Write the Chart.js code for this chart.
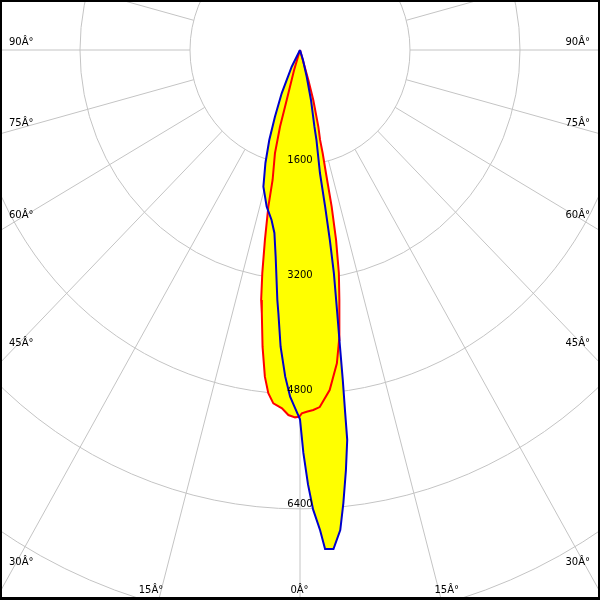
<!DOCTYPE html>
<html>
<head>
<meta charset="utf-8">
<script src="https://cdn.jsdelivr.net/npm/chart.js@4.4.1/dist/chart.umd.min.js"></script>
<style>
  html, body { margin: 0; padding: 0; background: #fff; }
  canvas { display: block; }
</style>
</head>
<body>
<canvas id="polarChart" width="600" height="600"></canvas>
<script>
// gamma angle in degrees from nadir (negative = left half), intensity in cd
const blueAngles = [-33, -27.4, -23.8, -21.4, -19.6, -17.7, -15.6, -12.5, -9.9, -8.3, -7, -5.4, -4.9, -3.9, -2.7, -1.7, -0.8, 0, 0.5, 1.1, 1.7, 2.5, 3, 4, 5, 5.7, 6.5, 7.2, 7.4, 7.7, 8, 8.4, 9, 9.3, 9.5, 9.6, 10.8, 11.1, 12.9, 14.7, 17.4, 20];
const blueValues = [0, 262, 660, 999, 1332, 1654, 1980, 2238, 2407, 2579, 2905, 3503, 3682, 4148, 4561, 4837, 4998, 5150, 5620, 6060, 6410, 6705, 6970, 6978, 6720, 6350, 5900, 5480, 5100, 4645, 4180, 3707, 3150, 2690, 2215, 1740, 1278, 1090, 715, 385, 146, 0];

const redAngles = [-22, -17, -15.5, -15.2, -14.2, -12.4, -11.9, -10.9, -10, -9.2, -8.6, -7.5, -6.4, -5.5, -4.5, -3, -1.9, -0.8, -0.1, 0.3, 1.1, 2.2, 3.3, 5.2, 7, 8, 8.8, 9.4, 10.3, 11.2, 11.9, 12.4, 12.9, 13.1, 14, 15.5, 16.2, 22];
const redValues = [0, 300, 723, 1109, 1486, 1856, 2233, 2698, 3158, 3533, 3714, 4173, 4584, 4810, 4943, 5004, 5094, 5124, 5114, 5067, 5046, 5025, 4988, 4762, 4402, 4085, 3712, 3534, 3161, 2701, 2233, 1757, 1478, 1288, 1102, 723, 435, 0];

const ringValues = [1600, 3200, 4800, 6400, 8000];
const ringLabels = ["1600", "3200", "4800", "6400"];
const sideAngleLabels = ["90Â°", "75Â°", "60Â°", "45Â°", "30Â°"];
const bottomAngleLabels = ["15Â°", "0Â°", "15Â°"];

function toXY(angles, values) {
  return angles.map((a, i) => {
    const rad = (a * Math.PI) / 180;
    return { x: values[i] * Math.sin(rad), y: -values[i] * Math.cos(rad) };
  });
}

const FONT = "10px 'DejaVu Sans', sans-serif";

const gridPlugin = {
  id: "polarGrid",
  beforeDatasetsDraw(chart) {
    const ctx = chart.ctx;
    const xs = chart.scales.x;
    const ys = chart.scales.y;
    const cx = xs.getPixelForValue(0);
    const cy = ys.getPixelForValue(0);
    ctx.save();
    ctx.strokeStyle = "#c4c4c4";
    ctx.lineWidth = 1;
    ringValues.forEach((r) => {
      const rx = xs.getPixelForValue(r) - cx;
      const ry = ys.getPixelForValue(-r) - cy;
      ctx.beginPath();
      ctx.ellipse(cx, cy, rx, ry, 0, 0, Math.PI * 2);
      ctx.stroke();
    });
    const r0 = ringValues[0];
    for (let a = 0; a < 360; a += 15) {
      const rad = (a * Math.PI) / 180;
      const s = Math.sin(rad), c = Math.cos(rad);
      ctx.beginPath();
      ctx.moveTo(xs.getPixelForValue(r0 * s), ys.getPixelForValue(-r0 * c));
      ctx.lineTo(xs.getPixelForValue(20000 * s), ys.getPixelForValue(-20000 * c));
      ctx.stroke();
    }
    ctx.restore();
  },
};

const fillPlugin = {
  id: "beamFill",
  beforeDatasetsDraw(chart) {
    const ctx = chart.ctx;
    ctx.save();
    ctx.fillStyle = "#ffff00";
    chart.data.datasets.forEach((ds, i) => {
      const pts = chart.getDatasetMeta(i).data;
      ctx.beginPath();
      pts.forEach((p, j) => (j ? ctx.lineTo(p.x, p.y) : ctx.moveTo(p.x, p.y)));
      ctx.closePath();
      ctx.fill();
    });
    ctx.restore();
  },
};

const labelPlugin = {
  id: "polarLabels",
  afterDatasetsDraw(chart) {
    const ctx = chart.ctx;
    const xs = chart.scales.x;
    const ys = chart.scales.y;
    const cx = xs.getPixelForValue(0);
    ctx.save();
    ctx.font = FONT;
    ctx.fillStyle = "#000";
    ctx.textBaseline = "alphabetic";

    ctx.textAlign = "center";
    ringLabels.forEach((t, i) => {
      ctx.fillText(t, cx, ys.getPixelForValue(-ringValues[i]) - 1.5);
    });

    const sideY = [45, 126, 218, 346, 565];
    sideAngleLabels.forEach((t, i) => {
      ctx.textAlign = "left";
      ctx.fillText(t, 9, sideY[i]);
      ctx.textAlign = "right";
      ctx.fillText(t, 590, sideY[i]);
    });

    const bottomX = [151, 299.5, 446.7];
    ctx.textAlign = "center";
    bottomAngleLabels.forEach((t, i) => {
      ctx.fillText(t, bottomX[i], 593);
    });

    // frame
    ctx.fillStyle = "#000";
    ctx.fillRect(0, 0, 600, 2);
    ctx.fillRect(0, 0, 2, 600);
    ctx.fillRect(598, 0, 2, 600);
    ctx.fillRect(0, 597, 600, 3);
    ctx.restore();
  },
};

const chartCtx = document.getElementById("polarChart").getContext("2d");
new Chart(chartCtx, {
  type: "scatter",
  data: {
    datasets: [
      {
        label: "C90-C270",
        data: toXY(blueAngles, blueValues),
        showLine: true,
        borderColor: "#0000cc",
        borderWidth: 2,
        pointRadius: 0,
        tension: 0,
        fill: false,
        order: 0,
      },
      {
        label: "C0-C180",
        data: toXY(redAngles, redValues),
        showLine: true,
        borderColor: "#ff0000",
        borderWidth: 2,
        pointRadius: 0,
        tension: 0,
        fill: false,
        order: 1,
      },
    ],
  },
  options: {
    responsive: false,
    animation: false,
    devicePixelRatio: 1,
    layout: { padding: 0 },
    plugins: {
      legend: { display: false },
      tooltip: { enabled: false },
    },
    scales: {
      x: { type: "linear", display: false, min: -4363.6, max: 4363.6 },
      y: { type: "linear", display: false, min: -7670.8, max: 697.4 },
    },
  },
  plugins: [gridPlugin, fillPlugin, labelPlugin],
});
</script>
</body>
</html>
